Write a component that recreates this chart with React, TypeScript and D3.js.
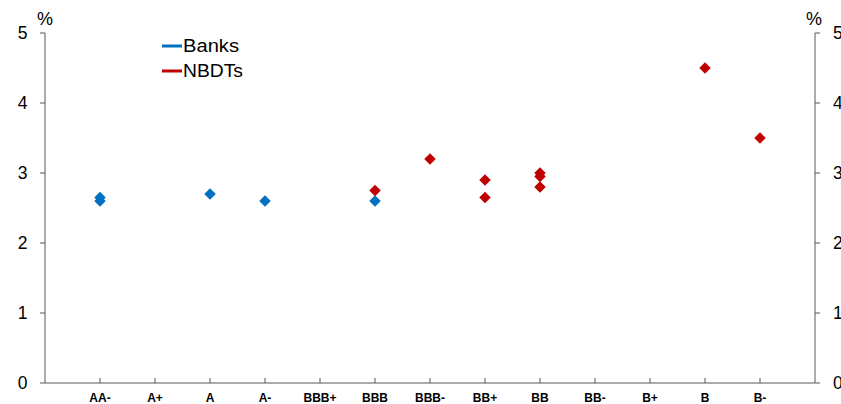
import React from "react";
import * as d3 from "d3";

const categories = ["AA-", "A+", "A", "A-", "BBB+", "BBB", "BBB-", "BB+", "BB", "BB-", "B+", "B", "B-"];
const yTicks = [0, 1, 2, 3, 4, 5];

const banksCats = ["AA-", "AA-", "A", "A-", "BBB"];
const banksVals = [2.65, 2.6, 2.7, 2.6, 2.6];

const nbdtCats = ["BBB", "BBB-", "BB+", "BB+", "BB", "BB", "BB", "B", "B-"];
const nbdtVals = [2.75, 3.2, 2.9, 2.65, 3.0, 2.95, 2.8, 4.5, 3.5];

const seriesNames = ["Banks", "NBDTs"];
const seriesColors = ["#0070C0", "#C00000"];
const legendWidths = [56, 60];

const W = 841;
const H = 404;
const left = 45;
const right = 815;
const top = 33;
const bottom = 383;

export default function App() {
  const x = d3.scaleLinear().domain([-1, categories.length]).range([left, right]);
  const y = d3.scaleLinear().domain([0, 5]).range([bottom, top]);
  const xc = (c: string) => x(categories.indexOf(c));
  const diamond = d3.symbol().type(d3.symbolDiamond2).size(84)();
  const axisColor = "#595959";
  const font = "Liberation Sans, Arial, sans-serif";

  const series = [
    { cats: banksCats, vals: banksVals },
    { cats: nbdtCats, vals: nbdtVals },
  ];

  return (
    <svg width={W} height={H} style={{ position: "absolute", left: 0, top: 0 }} fontFamily={font}>
      <rect width={W} height={H} fill="#fff" />
      {/* left axis */}
      <line x1={left} x2={left} y1={top} y2={bottom} stroke={axisColor} strokeWidth={1} />
      {yTicks.map((t) => (
        <g key={"l" + t}>
          <line x1={left - 5} x2={left} y1={y(t)} y2={y(t)} stroke={axisColor} />
          <text x={27.5} y={y(t) + 6} textAnchor="end" fontSize={17.5} fill="#000">{t}</text>
        </g>
      ))}
      <text x={37} y={25} fontSize={18} fill="#000">%</text>
      {/* right axis */}
      <line x1={right} x2={right} y1={top} y2={bottom} stroke={axisColor} strokeWidth={1} />
      {yTicks.map((t) => (
        <g key={"r" + t}>
          <line x1={right} x2={right + 5} y1={y(t)} y2={y(t)} stroke={axisColor} />
          <text x={833} y={y(t) + 6} textAnchor="start" fontSize={17.5} fill="#000">{t}</text>
        </g>
      ))}
      <text x={806} y={25} fontSize={18} fill="#000">%</text>
      {/* x axis */}
      <line x1={left} x2={right} y1={bottom} y2={bottom} stroke={axisColor} />
      {categories.map((c) => (
        <g key={c}>
          <line x1={xc(c)} x2={xc(c)} y1={bottom - 5} y2={bottom} stroke={axisColor} />
          <text x={xc(c)} y={402} textAnchor="middle" fontSize={12} fontWeight="bold" fill="#000">{c}</text>
        </g>
      ))}
      {/* points */}
      {series.map((s, si) => (
        <g key={si}>
          {s.cats.map((c, i) => (
            <path key={i} d={diamond || ""} transform={`translate(${xc(c)},${y(s.vals[i])})`} fill={seriesColors[si]} />
          ))}
        </g>
      ))}
      {/* legend */}
      {seriesNames.map((n, i) => (
        <g key={n}>
          <line x1={162} x2={182} y1={46 + i * 25} y2={46 + i * 25} stroke={seriesColors[i]} strokeWidth={3} />
          <text x={183} y={51.5 + i * 25} fontSize={17.5} textLength={legendWidths[i]} lengthAdjust="spacingAndGlyphs" fill="#000">{n}</text>
        </g>
      ))}
    </svg>
  );
}
